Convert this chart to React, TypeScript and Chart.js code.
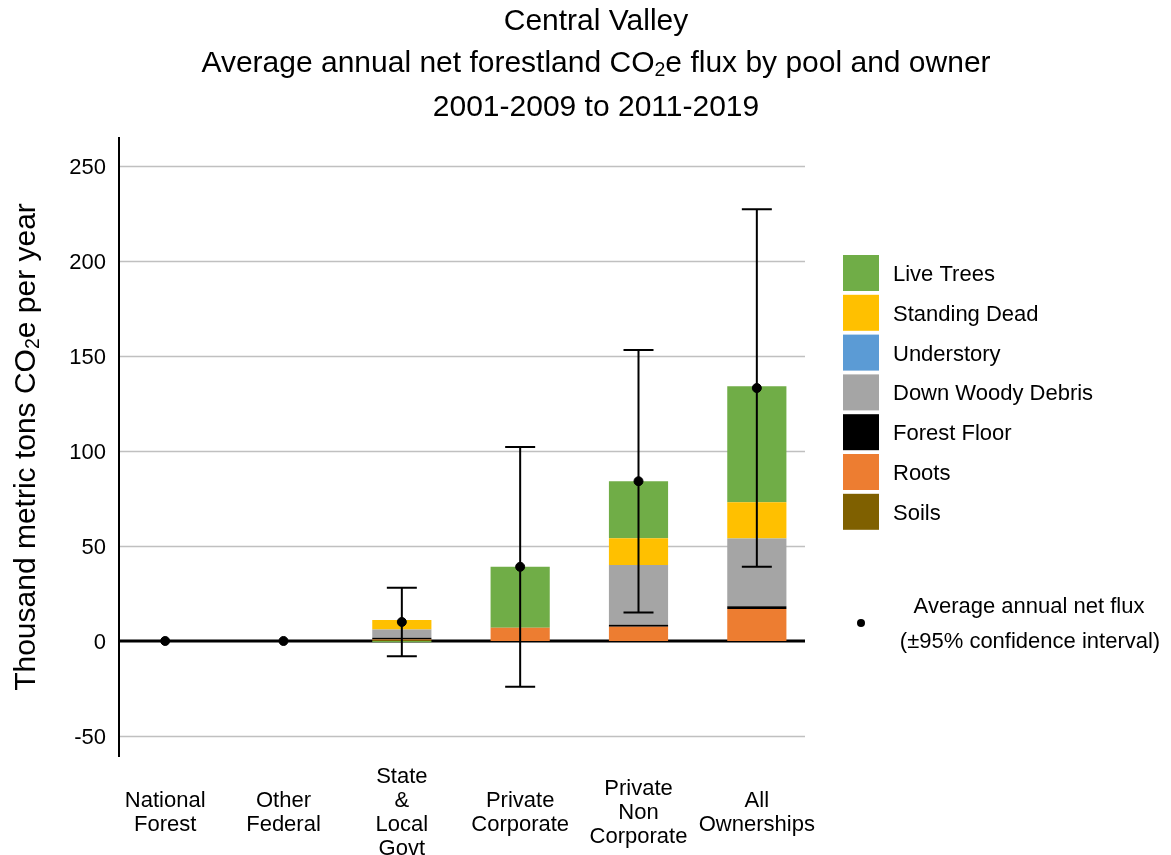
import React, { useEffect, useRef } from "react";
import { Chart, registerables } from "chart.js";

Chart.register(...registerables);

// ---------- data ----------
const categories: string[][] = [
  ["National", "Forest"],
  ["Other", "Federal"],
  ["State", "&", "Local", "Govt"],
  ["Private", "Corporate"],
  ["Private", "Non", "Corporate"],
  ["All", "Ownerships"],
];

const soils = [0, 0, 0.6, 0, 0, 0];
const roots = [0, 0, 0.3, 7, 7.5, 16.8];
const forestFloor = [0, 0, 0.8, 0, 1.0, 1.5];
const downWoodyDebris = [0, 0, 4.3, 0, 31.5, 35.4];
const understory = [0, 0, 0, 0, 0, 0.2];
const standingDead = [0, 0, 5.0, 0, 14, 19];
const liveTrees = [0, 0, -0.6, 32, 30, 61];

const meanFlux = [0, 0, 10, 39, 84, 133];
const ciLow: (number | null)[] = [null, null, -8, -24, 15, 39];
const ciHigh: (number | null)[] = [null, null, 28, 102, 153, 227];

const yTickValues = [-50, 0, 50, 100, 150, 200, 250];

const poolNames = ["Soils", "Roots", "Forest Floor", "Down Woody Debris", "Understory", "Standing Dead", "Live Trees"];
const poolColors = ["#7F6000", "#ED7D31", "#000000", "#A5A5A5", "#5B9BD5", "#FFC000", "#70AD47"];
const poolValues = [soils, roots, forestFloor, downWoodyDebris, understory, standingDead, liveTrees];

const FONT = '"Liberation Sans", Arial, sans-serif';

type Part = { t: string; sub?: boolean };

function richWidth(ctx: CanvasRenderingContext2D, parts: Part[], size: number) {
  let w = 0;
  for (const p of parts) {
    ctx.font = `${p.sub ? size * 0.65 : size}px ${FONT}`;
    w += ctx.measureText(p.t).width;
  }
  return w;
}

function drawRich(ctx: CanvasRenderingContext2D, parts: Part[], x: number, y: number, size: number) {
  const w = richWidth(ctx, parts, size);
  let cx = x - w / 2;
  ctx.textAlign = "left";
  ctx.textBaseline = "middle";
  ctx.fillStyle = "#000";
  for (const p of parts) {
    const s = p.sub ? size * 0.65 : size;
    ctx.font = `${s}px ${FONT}`;
    ctx.fillText(p.t, cx, p.sub ? y + size * 0.22 : y);
    cx += ctx.measureText(p.t).width;
  }
}

const decorPlugin = {
  id: "decor",
  beforeDatasetsDraw(chart: any) {
    const ctx: CanvasRenderingContext2D = chart.ctx;
    const y = chart.scales.y;
    ctx.save();
    ctx.strokeStyle = "#C0C0C0";
    ctx.lineWidth = 1.5;
    for (const v of yTickValues) {
      if (v === 0) continue;
      const py = Math.round(y.getPixelForValue(v)) + 0.5;
      ctx.beginPath();
      ctx.moveTo(120, py);
      ctx.lineTo(805, py);
      ctx.stroke();
    }
    // zero line
    const p0 = y.getPixelForValue(0);
    ctx.strokeStyle = "#000";
    ctx.lineWidth = 3;
    ctx.beginPath();
    ctx.moveTo(119, p0);
    ctx.lineTo(805, p0);
    ctx.stroke();
    ctx.restore();
  },
  afterDatasetsDraw(chart: any) {
    const ctx: CanvasRenderingContext2D = chart.ctx;
    const x = chart.scales.x;
    const y = chart.scales.y;
    ctx.save();
    ctx.strokeStyle = "#000";
    ctx.lineWidth = 2;
    for (let i = 0; i < categories.length; i++) {
      const lo = ciLow[i];
      const hi = ciHigh[i];
      if (lo == null || hi == null) continue;
      const px = x.getPixelForValue(i);
      const pLo = y.getPixelForValue(lo);
      const pHi = y.getPixelForValue(hi);
      ctx.beginPath();
      ctx.moveTo(px, pLo);
      ctx.lineTo(px, pHi);
      ctx.moveTo(px - 15, pLo);
      ctx.lineTo(px + 15, pLo);
      ctx.moveTo(px - 15, pHi);
      ctx.lineTo(px + 15, pHi);
      ctx.stroke();
    }
    // y axis line
    ctx.lineWidth = 2;
    ctx.beginPath();
    ctx.moveTo(119, chart.chartArea.top);
    ctx.lineTo(119, chart.chartArea.bottom);
    ctx.stroke();
    ctx.restore();
  },
  afterDraw(chart: any) {
    const ctx: CanvasRenderingContext2D = chart.ctx;
    ctx.save();
    // title
    drawRich(ctx, [{ t: "Central Valley" }], 596, 22, 30);
    drawRich(
      ctx,
      [{ t: "Average annual net forestland CO" }, { t: "2", sub: true }, { t: "e flux by pool and owner" }],
      596,
      64,
      30
    );
    drawRich(ctx, [{ t: "2001-2009 to 2011-2019" }], 596, 108, 30);

    // y title
    ctx.save();
    ctx.translate(27, 447);
    ctx.rotate(-Math.PI / 2);
    drawRich(ctx, [{ t: "Thousand metric tons CO" }, { t: "2", sub: true }, { t: "e per year" }], 0, 0, 30);
    ctx.restore();

    // legend
    for (let k = 0; k < poolNames.length; k++) {
      const idx = poolNames.length - 1 - k;
      const top = 255 + k * 39.8;
      ctx.fillStyle = poolColors[idx];
      ctx.fillRect(843, top, 36, 36);
      ctx.fillStyle = "#000";
      ctx.font = `22px ${FONT}`;
      ctx.textAlign = "left";
      ctx.textBaseline = "middle";
      ctx.fillText(poolNames[idx], 893, top + 20);
    }
    // flux legend
    ctx.beginPath();
    ctx.fillStyle = "#000";
    ctx.arc(861, 623, 4, 0, Math.PI * 2);
    ctx.fill();
    ctx.font = `22px ${FONT}`;
    ctx.textAlign = "center";
    ctx.textBaseline = "middle";
    ctx.fillText("Average annual net flux", 1029, 607);
    ctx.fillText("(\u00B195% confidence interval)", 1030, 642);
    ctx.restore();
  },
};

export default function App() {
  const ref = useRef<HTMLCanvasElement | null>(null);

  useEffect(() => {
    if (!ref.current) return;
    const barSets = poolNames.map((name, i) => ({
      type: "bar" as const,
      label: name,
      data: poolValues[i],
      backgroundColor: poolColors[i],
      borderWidth: 0,
      barPercentage: 0.5,
      categoryPercentage: 1,
      stack: "pools",
      order: 1,
    }));
    const chart = new Chart(ref.current, {
      type: "bar",
      data: {
        labels: categories as any,
        datasets: [
          {
            type: "line" as const,
            label: "Average annual net flux",
            data: meanFlux,
            showLine: false,
            pointRadius: 4.5,
            pointBackgroundColor: "#000",
            pointBorderColor: "#000",
            borderColor: "#000",
            stack: "mean",
            order: 0,
          } as any,
          ...barSets,
        ],
      },
      options: {
        responsive: false,
        animation: false,
        devicePixelRatio: 1,
        layout: { padding: { top: 137, right: 355, bottom: 0, left: 0 } },
        plugins: {
          legend: { display: false },
          title: { display: false },
          tooltip: { enabled: false },
        },
        scales: {
          x: {
            stacked: true,
            offset: true,
            grid: { display: false },
            border: { display: false },
            ticks: {
              autoSkip: false,
              maxRotation: 0,
              minRotation: 0,
              crossAlign: "center",
              padding: 12,
              color: "#000",
              font: { family: FONT, size: 22, lineHeight: 24 / 22 },
            },
            afterFit(scale: any) {
              scale.height = 98;
            },
          },
          y: {
            stacked: true,
            min: -61,
            max: 265,
            grid: { display: false, drawTicks: false },
            border: { display: false },
            ticks: {
              padding: 0,
              labelOffset: 2,
              color: "#000",
              font: { family: FONT, size: 22 },
            },
            afterBuildTicks(scale: any) {
              scale.ticks = yTickValues.map((v) => ({ value: v }));
            },
            afterFit(scale: any) {
              scale.width = 106;
            },
          },
        },
      } as any,
      plugins: [decorPlugin],
    });
    return () => chart.destroy();
  }, []);

  return (
    <div style={{ position: "fixed", left: 0, top: 0, width: 1171, height: 855, background: "#fff" }}>
      <canvas ref={ref} width={1171} height={855} style={{ width: 1171, height: 855 }} />
    </div>
  );
}
